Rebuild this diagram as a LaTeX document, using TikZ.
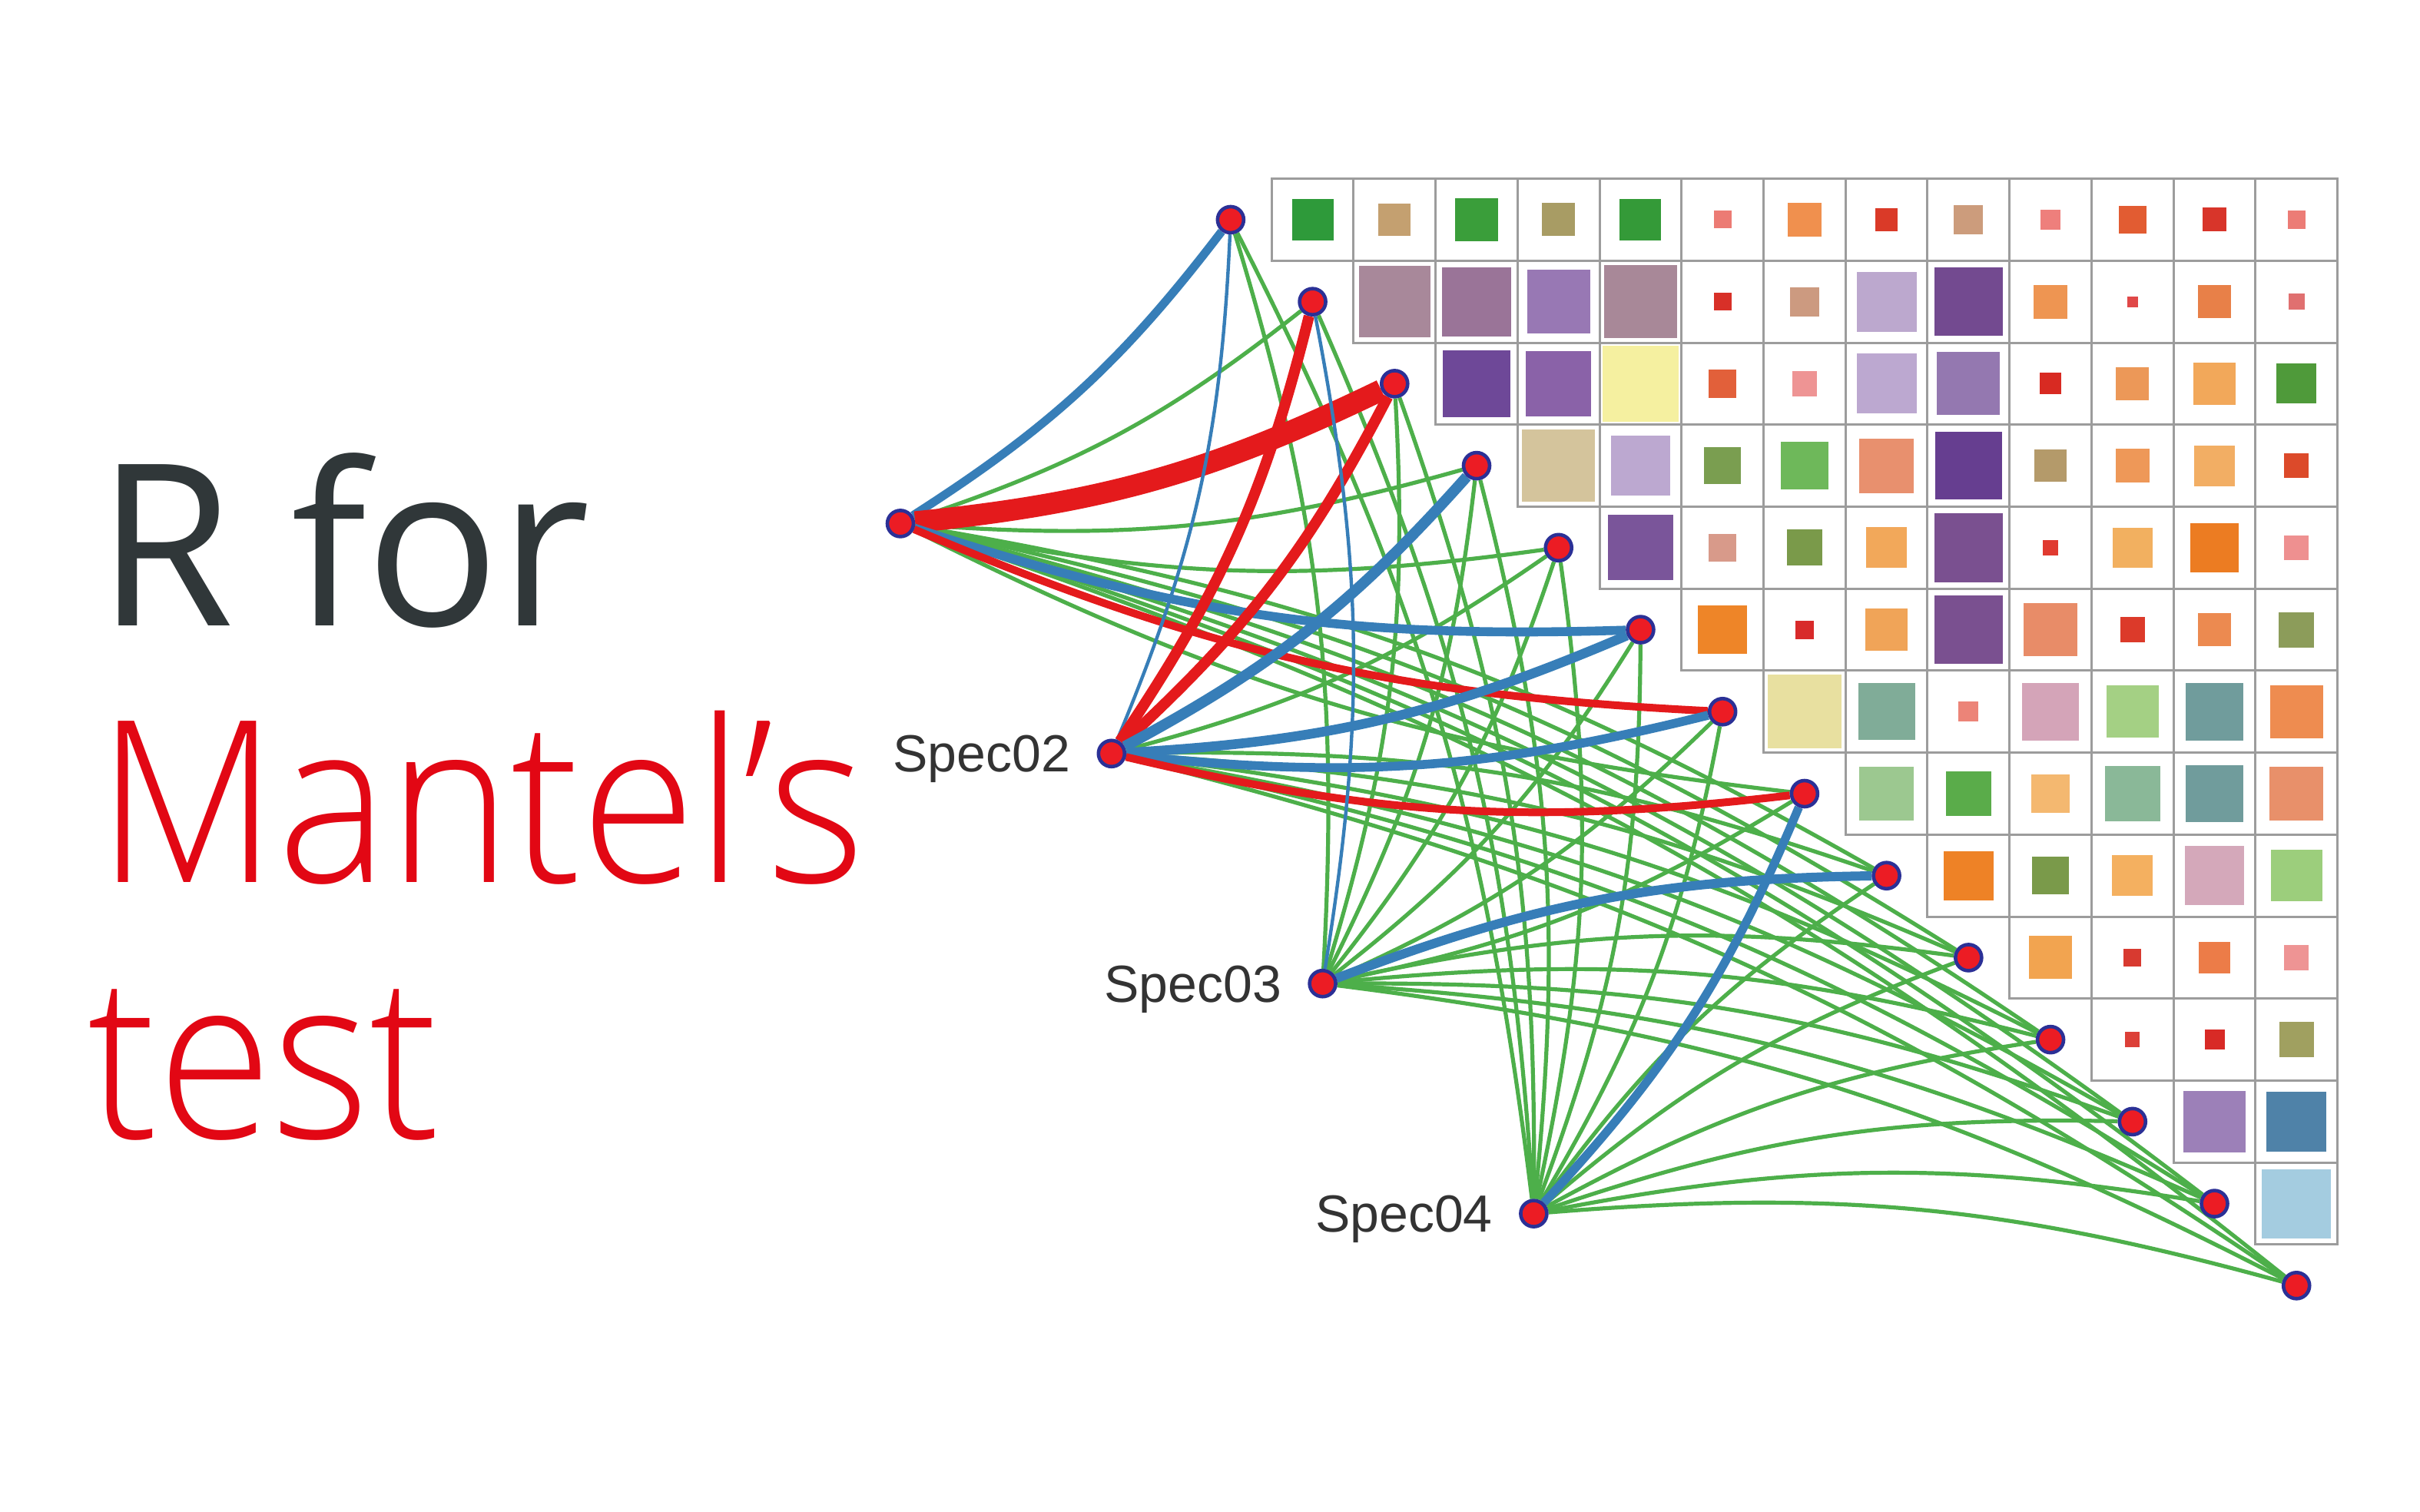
\documentclass[tikz,border=0pt]{standalone}
\usepackage{fontspec}
\newfontfamily\titlefontA[FakeStretch=0.98]{Open Sans}
\IfFontExistsTF{Open Sans Light}
  {\newfontfamily\titlefontB[FakeStretch=0.925]{Open Sans Light}}
  {\newfontfamily\titlefontB[FakeStretch=0.88]{Open Sans}}
\newfontfamily\labelfont{Liberation Sans}
\definecolor{egreen}{HTML}{4DAF4A}
\definecolor{eblue}{HTML}{377EB8}
\definecolor{ered}{HTML}{E41A1C}
\definecolor{dotfill}{HTML}{EC1C24}
\definecolor{dotdraw}{HTML}{2B3096}
\definecolor{gridgray}{HTML}{9C9C9C}
\definecolor{titlegray}{HTML}{303739}
\definecolor{titlered}{HTML}{E20714}
\definecolor{labelgray}{HTML}{333333}
\pgfdeclarelayer{bgfill}
\pgfdeclarelayer{edges}
\pgfsetlayers{bgfill,edges,main}
\def\gx{827.6}
\def\gy{116.3}
\def\gc{53.36}
\newcommand\cellsq[4]{%
  \definecolor{sqc}{HTML}{#4}%
  \fill[sqc] ({\gx+(#2+0.5)*\gc-#3/2},{\gy+(#1+0.5)*\gc-#3/2}) rectangle ++(#3,#3);%
}
\tikzset{
  dot/.style={circle, minimum size=17, inner sep=0pt, fill=dotfill, draw=dotdraw, line width=2.3},
  gridline/.style={draw=gridgray, line width=1.5},
  greenedge/.style={draw=egreen, line width=2.6},
  blueedge/.style={draw=eblue, line width=#1},
  rededge/.style={draw=ered, line width=#1},
  bendto/.code={\ifnum#1<8 \pgfkeysalso{bend right=10}\else\pgfkeysalso{bend left=10}\fi},
  speclabel/.style={font=\labelfont\fontsize{34}{40}\selectfont, text=labelgray, inner sep=0pt, anchor=base east},
  titleA/.style={font=\titlefontA\fontsize{147}{160}\selectfont, text=titlegray, inner sep=0pt, anchor=base west},
  titleB/.style={font=\titlefontB\fontsize{147}{160}\selectfont, text=titlered, inner sep=0pt, anchor=base west}
}
\begin{document}
\begin{tikzpicture}[x=1pt,y=-1pt]
\useasboundingbox (0,0) rectangle (1575,984);
\begin{pgfonlayer}{bgfill}
\fill[white] (0,0) rectangle (1575,984);
\end{pgfonlayer}
% title
\node[titleA] (t1) at (63,407) {R for};
\node[titleB] (t2) at (63,574.1) {Mantel’s};
\node[titleB] (t3) at (57,740.5) {test};
% grid cells
\foreach \r in {0,...,12}{
  \foreach \j in {\r,...,12}{
    \draw[gridline] ({\gx+\j*\gc},{\gy+\r*\gc}) rectangle ++(\gc,\gc);
  }
}
% row 0
\cellsq{0}{0}{27}{2E9A3A}
\cellsq{0}{1}{21}{C4A070}
\cellsq{0}{2}{28}{3A9E3A}
\cellsq{0}{3}{21.5}{A89C64}
\cellsq{0}{4}{27}{349A38}
\cellsq{0}{5}{11.5}{EC7B74}
\cellsq{0}{6}{21.6}{F0904E}
\cellsq{0}{7}{14.7}{DA3A28}
\cellsq{0}{8}{19.1}{CC9C7C}
\cellsq{0}{9}{13}{EE7F7C}
\cellsq{0}{10}{18}{E25C32}
\cellsq{0}{11}{15.5}{D8352A}
\cellsq{0}{12}{11.7}{EC7C76}
% row 1
\cellsq{1}{1}{46.5}{A8889A}
\cellsq{1}{2}{45}{9A7498}
\cellsq{1}{3}{41.2}{9878B4}
\cellsq{1}{4}{47.3}{A88898}
\cellsq{1}{5}{11.6}{D83028}
\cellsq{1}{6}{19}{CC9A80}
\cellsq{1}{7}{39.1}{BCA8CE}
\cellsq{1}{8}{44.7}{734A90}
\cellsq{1}{9}{21.9}{EE9552}
\cellsq{1}{10}{6.9}{E04848}
\cellsq{1}{11}{21.6}{E88048}
\cellsq{1}{12}{10.3}{E07070}
% row 2
\cellsq{2}{2}{43.6}{6E4898}
\cellsq{2}{3}{42.4}{8A62A8}
\cellsq{2}{4}{49.7}{F5F0A0}
\cellsq{2}{5}{18.3}{E2603A}
\cellsq{2}{6}{16.3}{EE9494}
\cellsq{2}{7}{39.1}{BCA8D0}
\cellsq{2}{8}{41}{9478B0}
\cellsq{2}{9}{13.9}{D82A22}
\cellsq{2}{10}{21.6}{EC9858}
\cellsq{2}{11}{27.2}{F2A85A}
\cellsq{2}{12}{26}{4F9A3A}
% row 3
\cellsq{3}{3}{47.3}{D4C49C}
\cellsq{3}{4}{38.8}{BCA8D0}
\cellsq{3}{5}{24}{7A9E50}
\cellsq{3}{6}{30.7}{6EB85A}
\cellsq{3}{7}{35.5}{E8906E}
\cellsq{3}{8}{43.8}{663E90}
\cellsq{3}{9}{20.8}{B49A6A}
\cellsq{3}{10}{21.9}{EE9858}
\cellsq{3}{11}{26.4}{F2AE64}
\cellsq{3}{12}{16.1}{DC4A2A}
% row 4
\cellsq{4}{4}{42.4}{7A559A}
\cellsq{4}{5}{18.1}{D89A8A}
\cellsq{4}{6}{23.4}{7A9A4A}
\cellsq{4}{7}{26.4}{F2A85A}
\cellsq{4}{8}{44.7}{7A5090}
\cellsq{4}{9}{9.7}{E03A30}
\cellsq{4}{10}{26}{F2B060}
\cellsq{4}{11}{31.9}{EC7C22}
\cellsq{4}{12}{16.1}{EE9090}
% row 5
\cellsq{5}{5}{31.7}{EE8528}
\cellsq{5}{6}{12}{D82A2A}
\cellsq{5}{7}{27.7}{F0A458}
\cellsq{5}{8}{44.7}{7A5090}
\cellsq{5}{9}{34.7}{E88C68}
\cellsq{5}{10}{16.1}{DC3A2A}
\cellsq{5}{11}{21.6}{EC8A50}
\cellsq{5}{12}{23}{8C9C5A}
% row 6
\cellsq{6}{6}{48}{E8E0A0}
\cellsq{6}{7}{36.9}{80AC98}
\cellsq{6}{8}{13}{EC8478}
\cellsq{6}{9}{37.4}{D4A4B8}
\cellsq{6}{10}{34.1}{A4D084}
\cellsq{6}{11}{37.4}{709C9C}
\cellsq{6}{12}{34.4}{EE8C50}
% row 7
\cellsq{7}{7}{35.2}{9CC890}
\cellsq{7}{8}{29.4}{5AAC4A}
\cellsq{7}{9}{25.2}{F4B870}
\cellsq{7}{10}{36.1}{8AB898}
\cellsq{7}{11}{37.4}{709C9C}
\cellsq{7}{12}{35}{E8906A}
% row 8
\cellsq{8}{8}{32.2}{EE8226}
\cellsq{8}{9}{24.4}{7A9A4A}
\cellsq{8}{10}{26.4}{F4B060}
\cellsq{8}{11}{38.6}{D4A8BA}
\cellsq{8}{12}{33.3}{9CCE7C}
% row 9
\cellsq{9}{9}{28}{F2A450}
\cellsq{9}{10}{11.4}{D83A30}
\cellsq{9}{11}{20.2}{EC7C48}
\cellsq{9}{12}{16.1}{EE9494}
% row 10
\cellsq{10}{10}{9.7}{DC4038}
\cellsq{10}{11}{13}{D82A26}
\cellsq{10}{12}{22.7}{A0A060}
% row 11
\cellsq{11}{11}{40.2}{9C80B8}
\cellsq{11}{12}{38.8}{4F82A8}
% row 12
\cellsq{12}{12}{44.9}{A4CCE0}
% dots
\foreach \i in {0,...,13}{
  \node[dot] (d\i) at ({\gx+(\i-0.5)*\gc},{\gy+(\i+0.5)*\gc}) {};
}
\node[dot] (S1) at (586,340.7) {};
\node[dot] (S2) at (723.4,490.4) {};
\node[dot] (S3) at (860.8,640.1) {};
\node[dot] (S4) at (998.2,789.8) {};
\node[speclabel] (L2) at ([xshift=-26.6,yshift=-12]S2.center) {Spec02};
\node[speclabel] (L3) at ([xshift=-26.6,yshift=-12]S3.center) {Spec03};
\node[speclabel] (L4) at ([xshift=-26.6,yshift=-12]S4.center) {Spec04};
% special edge markers
\foreach \p in {1-0,1-2,1-5,1-6,2-0,2-1,2-2,2-3,2-5,2-6,2-7,3-1,3-8,4-7}{
  \expandafter\xdef\csname spc-\p\endcsname{1}
}
\begin{pgfonlayer}{edges}
\foreach \s in {1,...,4}{
  \foreach \i in {0,...,13}{
    \ifcsname spc-\s-\i\endcsname\else
      \draw[greenedge] (S\s) to[bendto=\i] (d\i);
    \fi
  }
}
\draw[blueedge=5.5] (S1) to[bendto=0] (d0);
\draw[rededge=14] (S1) to[bendto=2] (d2);
\draw[blueedge=5.8] (S1) to[bendto=5] (d5);
\draw[rededge=5] (S1) to[bendto=6] (d6);
\draw[blueedge=2.2] (S2) to[bendto=0] (d0);
\draw[rededge=7] (S2) to[bendto=1] (d1);
\draw[rededge=7] (S2) to[bendto=2] (d2);
\draw[blueedge=7] (S2) to[bendto=3] (d3);
\draw[blueedge=6.3] (S2) to[bendto=5] (d5);
\draw[blueedge=5.8] (S2) to[bendto=6] (d6);
\draw[rededge=5] (S2) to[bendto=7] (d7);
\draw[blueedge=2.2] (S3) to[bendto=1] (d1);
\draw[blueedge=6] (S3) to[bendto=8] (d8);
\draw[blueedge=5.6] (S4) to[bendto=7] (d7);
\end{pgfonlayer}
\end{tikzpicture}
\end{document}
